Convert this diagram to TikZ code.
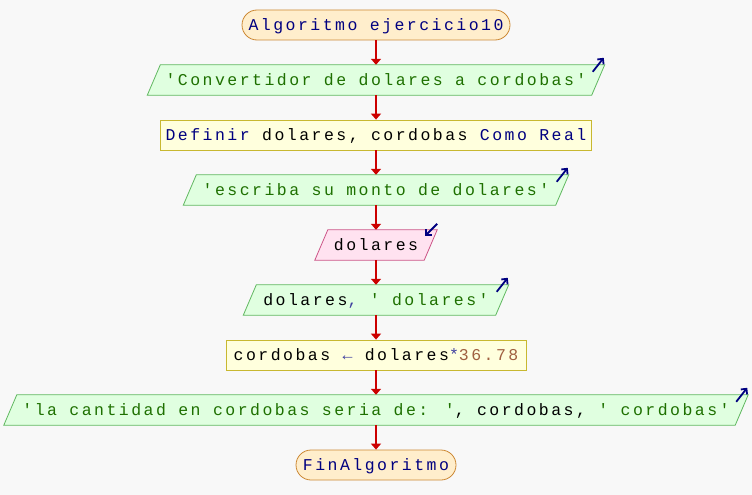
\documentclass[tikz,border=0pt]{standalone}
\usepackage{fontspec}
\newfontfamily\psfont[LetterSpace=15]{Liberation Mono}
\usetikzlibrary{arrows.meta,backgrounds,calc}
\definecolor{bgc}{HTML}{F8F8F8}
\definecolor{termfill}{HTML}{FFEECC}
\definecolor{termdraw}{HTML}{CC8833}
\definecolor{outfill}{HTML}{E0FFE0}
\definecolor{outdraw}{HTML}{60B860}
\definecolor{procfill}{HTML}{FFFFDD}
\definecolor{procdraw}{HTML}{C8B830}
\definecolor{infill}{HTML}{FFE2F0}
\definecolor{indraw}{HTML}{CC5588}
\definecolor{kw}{HTML}{000080}
\definecolor{strc}{HTML}{1E7000}
\definecolor{numc}{HTML}{A06040}
\definecolor{opc}{HTML}{4040A0}
\definecolor{flowc}{HTML}{CC0000}
\begin{document}
\begin{tikzpicture}[x=1pt,y=-1pt,
  txt/.style={font=\psfont\fontsize{16.5}{16.5}\selectfont, text height=11pt, text depth=0pt, inner sep=0pt, minimum height=30pt, align=center},
  term/.style={txt, draw=termdraw, fill=termfill, rounded corners=15pt, line width=0.8pt, text=kw},
  proc/.style={txt, draw=procdraw, fill=procfill, line width=0.8pt},
  iobox/.style={txt},
  outshape/.style={draw=outdraw, fill=outfill, line width=0.8pt},
  inshape/.style={draw=indraw, fill=infill, line width=0.8pt},
  flow/.style={draw=flowc, line width=1.5pt, -{Triangle[length=6pt,width=10pt]}},
  icon/.style={draw=kw, line width=1.8pt, -{Straight Barb[length=4pt,width=8pt]}}
]
\useasboundingbox (0,0) rectangle (752,495);
\node[term, minimum width=268pt] (start) at (376,25) {Algoritmo ejercicio10};
\node[iobox, minimum width=444pt] (o1) at (376,80) {\textcolor{strc}{'Convertidor de dolares a cordobas'}};
\node[proc, minimum width=431pt] (def) at (376,135) {\textcolor{kw}{Definir} dolares, cordobas \textcolor{kw}{Como Real}};
\node[iobox, minimum width=372pt] (o2) at (376,190) {\textcolor{strc}{'escriba su monto de dolares'}};
\node[iobox, minimum width=109pt] (in) at (376,245) {dolares};
\node[iobox, minimum width=252pt] (o3) at (376,300) {dolares\textcolor{opc}{,} \textcolor{strc}{' dolares'}};
\node[proc, minimum width=300pt] (asg) at (376,355) {cordobas \textcolor{opc}{←} dolares\textcolor{opc}{*}\textcolor{numc}{36.78}};
\node[iobox, minimum width=731pt] (o4) at (376,410) {\textcolor{strc}{'la cantidad en cordobas seria de: '}, cordobas, \textcolor{strc}{' cordobas'}};
\node[term, minimum width=160pt] (fin) at (376,465) {FinAlgoritmo};
\begin{scope}[on background layer]
  \fill[bgc] (0,0) rectangle (752,495);
  \foreach \n in {o1,o2,o3,o4} {
    \draw[outshape] ($(\n.north west)+(6.5,0)$) -- ($(\n.north east)+(6.5,0)$) -- ($(\n.south east)+(-6.5,0)$) -- ($(\n.south west)+(-6.5,0)$) -- cycle;
  }
  \draw[inshape] ($(in.north west)+(6.5,0)$) -- ($(in.north east)+(6.5,0)$) -- ($(in.south east)+(-6.5,0)$) -- ($(in.south west)+(-6.5,0)$) -- cycle;
\end{scope}
\foreach \n in {o1,o2,o3,o4} {
  \draw[icon] ($(\n.north east)+(-5.5,7)$) -- ($(\n.north east)+(5.5,-7)$);
}
\draw[icon] ($(in.north east)+(6.5,-6)$) -- ($(in.north east)+(-5.5,6)$);
\draw[flow] (start) -- (o1);
\draw[flow] (o1) -- (def);
\draw[flow] (def) -- (o2);
\draw[flow] (o2) -- (in);
\draw[flow] (in) -- (o3);
\draw[flow] (o3) -- (asg);
\draw[flow] (asg) -- (o4);
\draw[flow] (o4) -- (fin);
\end{tikzpicture}
\end{document}
